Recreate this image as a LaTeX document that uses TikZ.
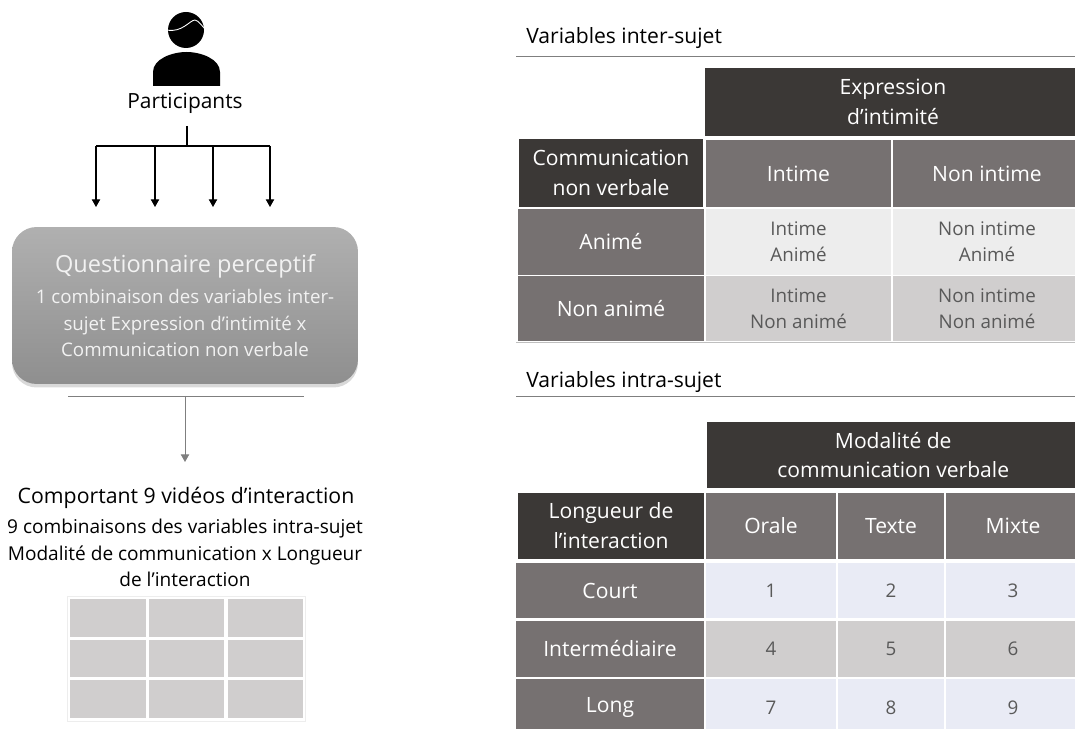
\documentclass[tikz,border=0pt]{standalone}
\usepackage{fontspec}
\setmainfont{Open Sans}
\usetikzlibrary{shadows,arrows.meta}
\definecolor{darkhead}{HTML}{3B3836}
\definecolor{midhead}{HTML}{767171}
\definecolor{lightcell}{HTML}{EDEDED}
\definecolor{greycell}{HTML}{D0CECE}
\definecolor{bluecell}{HTML}{E9EBF5}
\definecolor{celltext}{HTML}{595959}
\definecolor{rulegrey}{HTML}{7F7F7F}
\tikzset{
  plain/.style={inner sep=0pt,align=center,font=\fontsize{10.8}{15.3}\selectfont},
  titletext/.style={inner sep=0pt,anchor=base west,font=\fontsize{12}{15}\selectfont},
  darkcell/.style={rectangle,fill=darkhead,text=white,inner sep=0pt,align=center,font=\fontsize{12}{17}\selectfont},
  midcell/.style={rectangle,fill=midhead,text=white,inner sep=0pt,align=center,font=\fontsize{12}{17}\selectfont},
  datacell/.style={rectangle,text=celltext,inner sep=0pt,align=center,font=\fontsize{10.7}{14.8}\selectfont},
  gridcell/.style={rectangle,fill=greycell,minimum width=1.51cm,minimum height=.76cm,inner sep=0pt},
  titlerule/.style={rulegrey,line width=.55pt},
  tiptri/.style={-{Triangle[length=4.4pt,width=4.8pt]}}
}
\begin{document}
\begin{tikzpicture}
  [x=.02cm,y=-.02cm]
  \useasboundingbox (0,0) rectangle (1075,729);

  % person
  \fill (186,30) circle (18);
  \draw[white,line width=.5pt] (167,30) .. controls (182,33) and (190,20) .. (195,20) .. controls (199,21) and (202,26) .. (205,29);
  \fill (153,86) -- (153,72) .. controls (153,59) and (172,52) .. (186.5,52) .. controls (201,52) and (220,59) .. (220,72) -- (220,86) -- cycle;
  \node[plain,font=\fontsize{11.9}{15}\selectfont] (part) at (185,103) {Participants};

  % arrows to the questionnaire
  \coordinate (split) at (187,146);
  \coordinate (branch1) at (96,146);
  \coordinate (branch2) at (155,146);
  \coordinate (branch3) at (213,146);
  \coordinate (branch4) at (270,146);
  \coordinate (tip1) at (96,207);
  \coordinate (tip2) at (155,207);
  \coordinate (tip3) at (213,207);
  \coordinate (tip4) at (270,207);
  \draw[line width=.6pt] (187,126) -- (split);
  \draw[line width=.6pt] (branch1) -- (branch4);
  \draw[line width=.6pt,tiptri] (branch1) -- (tip1);
  \draw[line width=.6pt,tiptri] (branch2) -- (tip2);
  \draw[line width=.6pt,tiptri] (branch3) -- (tip3);
  \draw[line width=.6pt,tiptri] (branch4) -- (tip4);

  \node[rectangle,rounded corners=14pt,minimum width=6.92cm,minimum height=3.14cm,top color=black!31,bottom color=black!44,drop shadow={opacity=.3,shadow xshift=0pt,shadow yshift=-2pt}] (quest) at (185,305.5) {};
  \node[plain,text=white!95!black,font=\fontsize{13.4}{15}\selectfont] (questtitle) at (185,266) {Questionnaire perceptif};
  \node[plain,text=white!95!black,font=\fontsize{10.65}{15.3}\selectfont] (questtext) at (185,323) {1 combinaison des variables inter-\\sujet Expression d’intimité x\\Communication non verbale};

  % rule and arrow to the videos
  \coordinate (ruleleft) at (68,396);
  \coordinate (ruleright) at (304,396);
  \coordinate (rulemid) at (185,396);
  \coordinate (videotip) at (185,462);
  \draw[titlerule] (ruleleft) -- (ruleright);
  \draw[titlerule,tiptri] (rulemid) -- (videotip);

  \node[plain,font=\fontsize{12.1}{15}\selectfont] (videotitle) at (186,498) {Comportant 9 vidéos d’interaction};
  \node[plain,font=\fontsize{10.85}{15.2}\selectfont] (videotext) at (185,553) {9 combinaisons des variables intra-sujet\\Modalité de communication x Longueur\\de l’interaction};

  % small grid
  \node[rectangle,draw=black!7,line width=.4pt,minimum width=4.76cm,minimum height=2.5cm] (gridframe) at (186,659) {};
  \node[gridcell] (g11) at (108,618) {};
  \node[gridcell] (g12) at (186.5,618) {};
  \node[gridcell] (g13) at (265.5,618) {};
  \node[gridcell] (g21) at (108,658.5) {};
  \node[gridcell] (g22) at (186.5,658.5) {};
  \node[gridcell] (g23) at (265.5,658.5) {};
  \node[gridcell] (g31) at (108,699) {};
  \node[gridcell] (g32) at (186.5,699) {};
  \node[gridcell] (g33) at (265.5,699) {};

  % first table
  \node[titletext] (intertitle) at (526,44) {Variables inter-sujet};
  \coordinate (interleft) at (516,56);
  \coordinate (interright) at (1075,56);
  \draw[titlerule] (interleft) -- (interright);

  \node[darkcell,minimum width=7.53cm,minimum height=1.35cm] (exprhead) at (893,102) {Expression\\d’intimité};
  \node[darkcell,minimum width=3.7cm,minimum height=1.38cm] (comm) at (611,173) {Communication\\non verbale};
  \node[midcell,minimum width=3.72cm,minimum height=1.36cm] (intime) at (798.5,173.5) {Intime};
  \node[midcell,minimum width=3.76cm,minimum height=1.36cm] (nonintime) at (987,173.5) {Non intime};
  \node[midcell,minimum width=3.72cm,minimum height=1.31cm] (anime) at (611,242) {Animé};
  \node[midcell,minimum width=3.72cm,minimum height=1.31cm] (nonanime) at (611,308.5) {Non animé};
  \node[datacell,fill=lightcell,minimum width=3.72cm,minimum height=1.31cm] (a1) at (798.5,242) {Intime\\Animé};
  \node[datacell,fill=lightcell,minimum width=3.76cm,minimum height=1.31cm] (a2) at (987,242) {Non intime\\Animé};
  \node[datacell,fill=greycell,minimum width=3.72cm,minimum height=1.31cm] (b1) at (798.5,308.5) {Intime\\Non animé};
  \node[datacell,fill=greycell,minimum width=3.76cm,minimum height=1.31cm] (b2) at (987,308.5) {Non intime\\Non animé};
  \coordinate (interfootl) at (516,342);
  \coordinate (interfootr) at (1075,342);
  \draw[black!25,line width=.4pt] (interfootl) -- (interfootr);

  % second table
  \node[titletext] (intratitle) at (526,388) {Variables intra-sujet};
  \coordinate (intraleft) at (516,396);
  \coordinate (intraright) at (1075,396);
  \draw[titlerule] (intraleft) -- (intraright);

  \node[darkcell,minimum width=7.47cm,minimum height=1.33cm] (modhead) at (893.25,455) {Modalité de\\communication verbale};
  \node[darkcell,minimum width=3.74cm,minimum height=1.33cm] (length) at (611,526) {Longueur de\\l’interaction};
  \node[midcell,minimum width=2.59cm,minimum height=1.34cm] (orale) at (771,526) {Orale};
  \node[midcell,minimum width=2.13cm,minimum height=1.34cm] (texte) at (891,526) {Texte};
  \node[midcell,minimum width=2.68cm,minimum height=1.34cm] (mixte) at (1013,526) {Mixte};
  \node[midcell,minimum width=3.76cm,minimum height=1.12cm] (court) at (610,590.5) {Court};
  \node[midcell,minimum width=3.76cm,minimum height=1.14cm] (interm) at (610,649) {Intermédiaire};
  \node[midcell,minimum width=3.76cm,minimum height=1.16cm] (long) at (610,708) {Long};
  \node[datacell,fill=bluecell,minimum width=2.59cm,minimum height=1.12cm] (n1) at (771,590.5) {1};
  \node[datacell,fill=bluecell,minimum width=2.13cm,minimum height=1.12cm] (n2) at (891,590.5) {2};
  \node[datacell,fill=bluecell,minimum width=2.68cm,minimum height=1.12cm] (n3) at (1013,590.5) {3};
  \node[datacell,fill=greycell,minimum width=2.59cm,minimum height=1.14cm] (n4) at (771,649) {4};
  \node[datacell,fill=greycell,minimum width=2.13cm,minimum height=1.14cm] (n5) at (891,649) {5};
  \node[datacell,fill=greycell,minimum width=2.68cm,minimum height=1.14cm] (n6) at (1013,649) {6};
  \node[datacell,fill=bluecell,minimum width=2.59cm,minimum height=1.16cm] (n7) at (771,708) {7};
  \node[datacell,fill=bluecell,minimum width=2.13cm,minimum height=1.16cm] (n8) at (891,708) {8};
  \node[datacell,fill=bluecell,minimum width=2.68cm,minimum height=1.16cm] (n9) at (1013,708) {9};
\end{tikzpicture}
\end{document}
